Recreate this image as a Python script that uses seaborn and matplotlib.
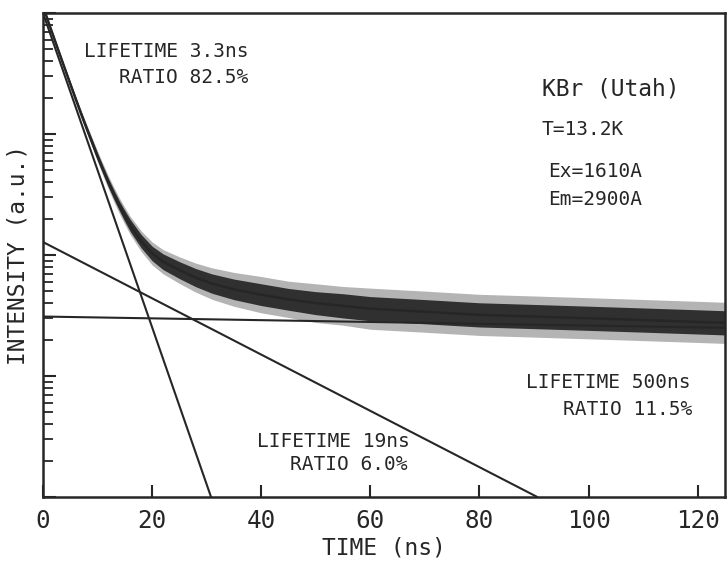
import matplotlib
matplotlib.use("Agg")
import matplotlib.pyplot as plt
from matplotlib.ticker import LogLocator, NullFormatter, FixedLocator
import numpy as np
import pandas as pd
import seaborn as sns

# ---- data ----
# measured decay trace (centre of the noisy band), time in ns, intensity in a.u.
t_obs = [0.5, 1, 2, 3, 4, 5, 6, 7, 8, 9, 10, 11, 12, 13, 14, 15, 16, 18, 20, 22,
         25, 28, 31, 35, 40, 45, 50, 55, 60, 70, 80, 90, 100, 110, 120, 125]
i_obs = [9800, 8400, 6250, 4650, 3470, 2590, 1940, 1460, 1110, 850, 650, 505, 395,
         315, 255, 210, 175, 130, 103, 88, 75, 65, 58, 52, 47, 43, 40, 38, 36,
         34, 32, 31, 30, 29, 28, 27.5]
# half width of the dense noise band (decades) and of the spike fringe (decades)
hw_core = [0.01, 0.01, 0.012, 0.014, 0.015, 0.018, 0.02, 0.022, 0.025, 0.028, 0.03,
           0.032, 0.035, 0.038, 0.04, 0.045, 0.05, 0.055, 0.06, 0.065, 0.07, 0.075,
           0.08, 0.085, 0.09, 0.09, 0.095, 0.1, 0.1, 0.1, 0.1, 0.1, 0.1, 0.1, 0.1, 0.1]
hw_spike = [0.01, 0.01, 0.013, 0.016, 0.018, 0.02, 0.025, 0.03, 0.035, 0.04, 0.045,
            0.05, 0.055, 0.06, 0.065, 0.07, 0.075, 0.085, 0.095, 0.1, 0.11, 0.12,
            0.13, 0.14, 0.15, 0.15, 0.16, 0.16, 0.17, 0.17, 0.17, 0.17, 0.17, 0.17,
            0.17, 0.17]

# fitted exponential components: end points
fit_component = ["3.3ns", "3.3ns", "19ns", "19ns", "500ns", "500ns"]
fit_t = [0, 30.8, 0, 90.6, 0, 125]
fit_i = [10000, 1, 128, 1, 31, 25]

x_ticks = [0, 20, 40, 60, 80, 100, 120]
x_tick_labels = ["0", "20", "40", "60", "80", "100", "120"]

# ---- figure ----
sns.set_style("ticks")
plt.rcParams["font.family"] = ["DejaVu Sans Mono", "DejaVu Sans"]
INK = "#262626"

fig = plt.figure(figsize=(7.28, 5.67), dpi=100)
ax = fig.add_axes([43 / 728, 1 - 497 / 567, 682 / 728, 484 / 567])

trace = pd.DataFrame({"t": t_obs, "I": i_obs, "hc": hw_core, "hs": hw_spike})
ax.fill_between(trace["t"], trace["I"] / 10 ** trace["hs"], trace["I"] * 10 ** trace["hs"],
                color="#6a6a6a", alpha=0.5, lw=0)
ax.fill_between(trace["t"], trace["I"] / 10 ** trace["hc"], trace["I"] * 10 ** trace["hc"],
                color="#303030", lw=0)
sns.lineplot(data=trace, x="t", y="I", color=INK, lw=1.8, ax=ax)

fits = pd.DataFrame({"component": fit_component, "t": fit_t, "I": fit_i})
sns.lineplot(data=fits, x="t", y="I", units="component", estimator=None,
             color=INK, lw=1.5, ax=ax)

ax.set_yscale("log")
ax.set_xlim(0, 125)
ax.set_ylim(1, 1e4)

ax.xaxis.set_major_locator(FixedLocator(x_ticks))
ax.set_xticklabels(x_tick_labels)
ax.yaxis.set_major_locator(LogLocator(base=10))
ax.yaxis.set_minor_locator(LogLocator(base=10, subs=np.arange(2, 10)))
ax.yaxis.set_major_formatter(NullFormatter())
ax.yaxis.set_minor_formatter(NullFormatter())
ax.xaxis.set_minor_locator(FixedLocator([]))

ax.tick_params(axis="x", which="major", direction="in", length=9, width=1.5,
               color=INK, pad=9, labelsize=17.5, labelcolor=INK)
ax.tick_params(axis="y", which="major", direction="in", length=9, width=1.5, color=INK)
ax.tick_params(axis="y", which="minor", direction="in", length=7, width=1.3, color=INK)

for s in ax.spines.values():
    s.set_visible(True)
    s.set_color(INK)
    s.set_linewidth(1.8)

ax.set_xlabel("TIME (ns)", fontsize=16.5, color=INK, labelpad=2)
ax.set_ylabel("INTENSITY (a.u.)", fontsize=16.5, color=INK, labelpad=6)

def atext(x_px, y_px, s, size, ha="left"):
    ax.text((x_px - 43) / 682, (497 - y_px) / 484, s, transform=ax.transAxes,
            fontsize=size, ha=ha, va="baseline", color=INK)

atext(248, 57, "LIFETIME 3.3ns", 14, "right")
atext(248, 83, "RATIO 82.5%", 14, "right")
atext(542, 95, "KBr (Utah)", 16.5)
atext(542, 135, "T=13.2K", 14)
atext(548, 177, "Ex=1610A", 14)
atext(548, 205, "Em=2900A", 14)
atext(690, 388, "LIFETIME 500ns", 14, "right")
atext(692, 415, "RATIO 11.5%", 14, "right")
atext(410, 447, "LIFETIME 19ns", 14, "right")
atext(407, 470, "RATIO 6.0%", 14, "right")

fig.savefig("out.png", dpi=100, facecolor="white")
